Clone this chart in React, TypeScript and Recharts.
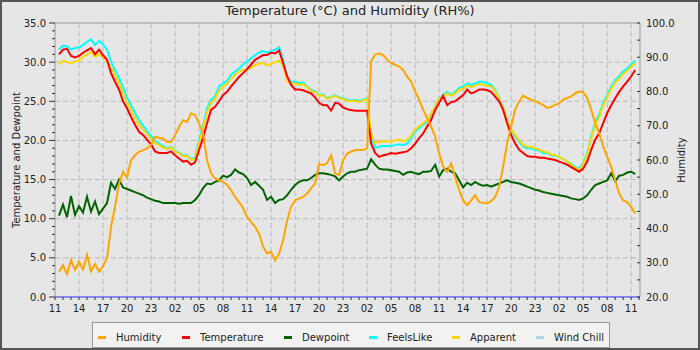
import { LineChart, Line, XAxis, YAxis, CartesianGrid, ReferenceLine } from 'recharts'

// readings every half hour, starting 11:30 on day one
const temperature = [
  31.0, 31.6, 31.7, 30.8, 30.6, 30.8, 31.2, 31.5, 31.8, 31.0, 31.6, 30.9,
  30.3, 28.6, 27.5, 26.5, 25.0, 24.1, 23.0, 22.0, 21.1, 20.7, 20.1, 19.5,
  18.6, 18.4, 18.4, 18.4, 18.6, 18.1, 17.7, 17.3, 17.4, 16.9, 17.2, 18.8,
  20.3, 22.2, 23.9, 24.3, 25.0, 25.8, 26.2, 26.9, 27.5, 28.1, 28.6, 29.1,
  29.7, 30.3, 30.6, 30.9, 30.9, 31.2, 31.1, 31.5, 29.9, 28.2, 27.1, 26.5,
  26.5, 26.4, 26.2, 26.0, 25.5, 24.8, 24.5, 24.5, 23.8, 24.8, 24.7, 24.2,
  24.0, 23.9, 23.8, 23.8, 23.8, 23.8, 19.6, 18.4, 17.9, 18.1, 18.2, 18.4,
  18.3, 18.4, 18.5, 18.6, 19.0, 19.6, 20.3, 20.9, 21.8, 22.6, 23.9, 24.8,
  25.7, 24.5, 24.9, 25.0, 25.4, 25.8, 26.5, 26.0, 26.2, 26.5, 26.5, 26.4,
  26.2, 25.6, 25.0, 23.9, 22.2, 20.7, 19.6, 18.8, 18.4, 18.0, 17.9, 17.9,
  17.8, 17.8, 17.7, 17.6, 17.5, 17.3, 17.1, 16.9, 16.6, 16.3, 16.0, 16.4,
  17.3, 18.8, 20.1, 20.9, 22.2, 23.5, 24.5, 25.4, 26.2, 26.9, 27.5, 28.2,
  29.0,
]

const feelsLike = [
  31.6, 32.1, 32.0, 31.6, 31.8, 31.9, 32.2, 32.6, 32.9, 32.2, 32.7, 32.3,
  31.6, 30.0, 29.0, 28.0, 26.8, 25.5, 24.5, 23.5, 22.6, 21.9, 21.2, 20.6,
  20.0, 19.6, 19.3, 19.0, 19.2, 18.7, 18.4, 18.1, 18.1, 17.6, 17.8, 20.1,
  21.8, 24.1, 25.2, 25.6, 26.9, 27.3, 27.6, 28.4, 28.8, 29.2, 29.7, 30.1,
  30.5, 30.9, 31.2, 31.4, 31.2, 31.4, 31.6, 31.9, 30.3, 28.0, 27.5, 27.5,
  27.3, 27.4, 26.9, 26.4, 26.3, 25.8, 25.9, 25.4, 25.6, 25.8, 25.5, 25.4,
  25.2, 25.1, 25.2, 25.0, 25.2, 25.4, 20.5, 19.0, 19.2, 19.3, 19.3, 19.3,
  19.4, 19.5, 19.4, 19.6, 20.3, 21.1, 21.6, 22.0, 22.4, 23.3, 24.3, 25.4,
  25.8, 26.2, 25.8, 26.2, 26.7, 26.9, 27.3, 27.1, 27.3, 27.5, 27.5, 27.3,
  27.1, 26.5, 25.4, 24.3, 22.6, 21.3, 20.5, 19.8, 19.2, 19.0, 19.0, 18.8,
  18.7, 18.4, 18.4, 18.1, 18.0, 17.9, 17.6, 17.3, 17.0, 16.6, 16.4, 17.1,
  18.4, 20.5, 22.4, 23.3, 24.8, 25.8, 26.9, 27.7, 28.2, 28.8, 29.2, 29.7,
  30.2,
]

const apparent = [
  29.7, 30.2, 30.0, 29.8, 30.1, 30.2, 30.7, 31.0, 31.3, 30.7, 31.0, 30.6,
  30.2, 29.3, 28.3, 27.3, 26.0, 24.9, 23.9, 22.9, 22.0, 21.4, 20.8, 20.2,
  19.7, 19.4, 19.1, 18.9, 19.1, 18.6, 18.3, 18.0, 18.0, 17.5, 17.6, 19.7,
  21.4, 23.6, 24.8, 25.3, 26.4, 26.9, 27.2, 27.9, 28.4, 28.8, 29.0, 29.0,
  29.3, 29.6, 29.8, 29.9, 29.6, 29.8, 30.0, 30.2, 29.6, 27.6, 27.2, 27.3,
  27.1, 27.2, 26.8, 26.3, 26.2, 25.7, 25.8, 25.3, 25.5, 25.7, 25.4, 25.3,
  25.1, 25.0, 25.1, 24.9, 25.1, 25.3, 20.9, 19.7, 19.8, 19.9, 19.9, 19.8,
  20.0, 20.1, 19.9, 20.1, 20.6, 21.4, 21.8, 22.2, 22.6, 23.4, 24.3, 25.3,
  25.7, 26.0, 25.7, 26.0, 26.5, 26.6, 27.0, 26.8, 27.0, 27.2, 27.1, 27.0,
  26.9, 26.3, 25.3, 24.2, 22.6, 21.4, 20.7, 20.0, 19.4, 19.2, 19.2, 19.0,
  18.8, 18.6, 18.5, 18.2, 18.1, 17.9, 17.6, 17.3, 16.9, 16.5, 16.2, 16.9,
  18.2, 20.2, 22.0, 23.0, 24.5, 25.5, 26.6, 27.4, 27.9, 28.5, 28.9, 29.4,
  29.9,
]

const dewpoint = [
  10.4, 11.8, 10.2, 12.9, 10.5, 11.6, 10.8, 12.8, 10.9, 12.2, 10.6, 11.3,
  12.0, 14.6, 13.8, 15.0, 14.0, 13.8, 13.6, 13.4, 13.2, 13.0, 12.7, 12.5,
  12.3, 12.2, 12.0, 12.0, 12.0, 12.0, 11.9, 12.0, 12.0, 12.0, 12.4, 13.0,
  13.9, 14.5, 14.4, 14.7, 14.9, 15.5, 15.3, 15.6, 16.3, 15.9, 15.7, 15.2,
  14.3, 14.7, 14.2, 13.7, 12.4, 12.8, 12.0, 12.4, 12.5, 13.0, 13.7, 14.3,
  14.7, 14.9, 14.9, 15.2, 15.6, 15.8, 15.8, 15.7, 15.6, 15.4, 14.9, 15.4,
  15.8, 16.0, 16.0, 16.2, 16.3, 16.4, 17.6, 16.9, 16.4, 16.3, 16.3, 16.2,
  16.1, 16.0, 15.6, 15.9, 16.0, 15.8, 15.7, 16.0, 16.0, 16.1, 16.9, 15.4,
  16.2, 16.4, 16.0, 15.8, 14.9, 14.0, 14.6, 14.3, 14.7, 14.4, 14.2, 14.3,
  14.1, 14.3, 14.5, 14.7, 14.9, 14.7, 14.6, 14.5, 14.3, 14.1, 13.9, 13.7,
  13.6, 13.4, 13.3, 13.2, 13.1, 13.0, 12.9, 12.8, 12.6, 12.5, 12.4, 12.6,
  13.0, 13.7, 14.3, 14.5, 14.7, 14.9, 15.8, 14.8, 15.5, 15.6, 15.9, 16.0,
  15.7,
]

const humidity = [
  27.4, 29.3, 26.7, 30.8, 27.9, 30.3, 28.1, 32.3, 27.5, 29.6, 27.4, 29.0,
  31.3, 40.5, 46.4, 53.1, 56.6, 54.9, 59.9, 61.4, 62.4, 62.9, 63.4, 64.4,
  66.8, 66.5, 66.3, 65.3, 65.2, 67.3, 69.7, 71.6, 71.1, 73.6, 73.1, 70.7,
  67.8, 59.9, 56.1, 54.6, 54.1, 53.6, 52.7, 51.2, 49.2, 47.7, 45.9, 43.4,
  41.9, 40.5, 38.5, 34.7, 32.7, 33.2, 30.7, 32.7, 36.5, 42.4, 46.4, 48.2,
  48.7, 49.2, 50.2, 51.7, 53.1, 58.9, 58.5, 59.1, 61.4, 56.1, 55.6, 59.9,
  61.9, 62.4, 62.9, 62.9, 62.9, 63.4, 88.8, 90.8, 91.1, 90.6, 89.3, 88.3,
  87.8, 87.3, 86.3, 84.4, 82.9, 80.0, 77.6, 74.7, 72.2, 69.7, 66.9, 62.0,
  58.1, 56.6, 59.0, 55.1, 51.2, 48.2, 46.8, 48.2, 49.7, 47.7, 47.5, 47.3,
  48.0, 49.2, 52.1, 58.1, 64.9, 69.7, 74.7, 77.1, 78.8, 78.1, 77.6, 77.1,
  76.6, 76.1, 75.2, 75.5, 76.1, 76.6, 77.6, 78.1, 78.6, 79.5, 80.0, 79.8,
  78.1, 74.7, 70.7, 67.8, 63.9, 60.9, 58.1, 54.1, 50.2, 48.2, 47.7, 46.3,
  44.4,
]

// x axis labels, one every 3 hours
const hourLabels = [
  '11', '14', '17', '20', '23', '02', '05', '08',
  '11', '14', '17', '20', '23', '02', '05', '08',
  '11', '14', '17', '20', '23', '02', '05', '08', '11',
]

const legendItems = [
  { name: 'Humidity', color: '#ffa500', x: 116 },
  { name: 'Temperature', color: '#ff0000', x: 200 },
  { name: 'Dewpoint', color: '#006400', x: 302 },
  { name: 'FeelsLike', color: '#00ffff', x: 387 },
  { name: 'Apparent', color: '#ffd700', x: 470 },
  { name: 'Wind Chill', color: '#add8e6', x: 554 },
]

const hourTicks = Array.from({ length: 74 }, (_, i) => i)
const tempTicks = Array.from({ length: 36 }, (_, i) => i)
const humTicks = [20, 25, 30, 35, 40, 45, 50, 55, 60, 65, 70, 75, 80, 85, 90, 95, 100]
const tempGrid = [5, 10, 15, 20, 25, 30]
const hourGrid = hourTicks.filter((h) => h > 0 && h % 3 === 0)

const data = temperature.map((t, i) => ({
  h: 0.5 + i * 0.5,
  temperature: t,
  feelsLike: feelsLike[i],
  apparent: apparent[i],
  dewpoint: dewpoint[i],
  humidity: humidity[i],
}))

const FONT = '"DejaVu Sans", Verdana, sans-serif'

function XTick({ x, y, payload }: any) {
  const v = payload.value
  return (
    <g>
      <line x1={x} x2={x} y1={y} y2={y + 3} stroke="#333" />
      {v % 3 === 0 && (
        <text x={x} y={y + 15} textAnchor="middle" fontSize={10} fontFamily={FONT} fill="#222">
          {hourLabels[v / 3]}
        </text>
      )}
    </g>
  )
}

function LeftTick({ x, y, payload }: any) {
  const v = payload.value
  const major = v % 5 === 0
  return (
    <g>
      <line x1={x - (major ? 6 : 3)} x2={x} y1={y} y2={y} stroke="#333" />
      {major && (
        <text x={x - 9} y={y + 3.5} textAnchor="end" fontSize={10} fontFamily={FONT} fill="#222">
          {v.toFixed(1)}
        </text>
      )}
    </g>
  )
}

function RightTick({ x, y, payload }: any) {
  const v = payload.value
  return (
    <g>
      <line x1={x - 3} x2={x} y1={y} y2={y} stroke="#333" />
      {v % 10 === 0 && (
        <text x={x + 6} y={y + 3.5} textAnchor="start" fontSize={10} fontFamily={FONT} fill="#222">
          {v.toFixed(1)}
        </text>
      )}
    </g>
  )
}

export default function App() {
  return (
    <div style={{ position: 'absolute', left: 0, top: 0, width: 700, height: 350, background: '#e6e6e6' }}>
      <LineChart width={700} height={350} data={data} margin={{ top: 23, right: 0, bottom: 23, left: 0 }}>
        <CartesianGrid
          stroke="#b8b8b8"
          strokeDasharray="5 3"
          horizontalValues={tempGrid}
          verticalValues={hourGrid}
        />
        <XAxis
          type="number"
          dataKey="h"
          domain={[0, 73.1]}
          ticks={hourTicks}
          interval={0}
          height={30}
          tickSize={0}
          tickMargin={0}
          tickLine={false}
          axisLine={{ stroke: '#8a8af0', strokeWidth: 2 }}
          tick={(p: any) => <XTick {...p} />}
          allowDataOverflow
        />
        <YAxis
          domain={[0, 35]}
          ticks={tempTicks}
          interval={0}
          width={55}
          tickSize={0}
          tickMargin={0}
          tickLine={false}
          axisLine={{ stroke: '#999' }}
          tick={(p: any) => <LeftTick {...p} />}
        />
        <YAxis
          yAxisId="right"
          orientation="right"
          domain={[20, 100]}
          ticks={humTicks}
          interval={0}
          width={60}
          tickSize={0}
          tickMargin={0}
          tickLine={false}
          axisLine={{ stroke: '#999' }}
          tick={(p: any) => <RightTick {...p} />}
        />
        <ReferenceLine y={35} stroke="#999" />
        <Line dataKey="feelsLike" stroke="#00ffff" strokeWidth={2} dot={false} isAnimationActive={false} />
        <Line dataKey="apparent" stroke="#ffd700" strokeWidth={2} dot={false} isAnimationActive={false} />
        <Line dataKey="dewpoint" stroke="#006400" strokeWidth={2} dot={false} isAnimationActive={false} />
        <Line dataKey="temperature" stroke="#ff0000" strokeWidth={2} dot={false} isAnimationActive={false} />
        <Line
          yAxisId="right"
          dataKey="humidity"
          stroke="#ffa500"
          strokeWidth={2}
          dot={false}
          isAnimationActive={false}
        />
      </LineChart>
      <svg
        width={700}
        height={350}
        style={{ position: 'absolute', left: 0, top: 0, pointerEvents: 'none' }}
        fontFamily={FONT}
      >
        <text x={350} y={15} textAnchor="middle" fontSize={13} fill="#222">
          Temperature (°C) and Humidity (RH%)
        </text>
        <text x={20} y={160} textAnchor="middle" fontSize={10} fill="#222" transform="rotate(-90 20 160)">
          Temperature and Dewpoint
        </text>
        <text x={685} y={160} textAnchor="middle" fontSize={10} fill="#222" transform="rotate(-90 685 160)">
          Humidity
        </text>
        <rect x={92.5} y={322.5} width={517} height={25} fill="#f2f2f2" stroke="#999" />
        {legendItems.map((item) => (
          <g key={item.name}>
            <rect x={item.x - 18} y={336} width={8} height={3} fill={item.color} />
            <text x={item.x} y={341} fontSize={10} fill="#222">
              {item.name}
            </text>
          </g>
        ))}
        <rect x={1} y={1} width={698} height={348} fill="none" stroke="#555" strokeWidth={2} />
      </svg>
    </div>
  )
}
